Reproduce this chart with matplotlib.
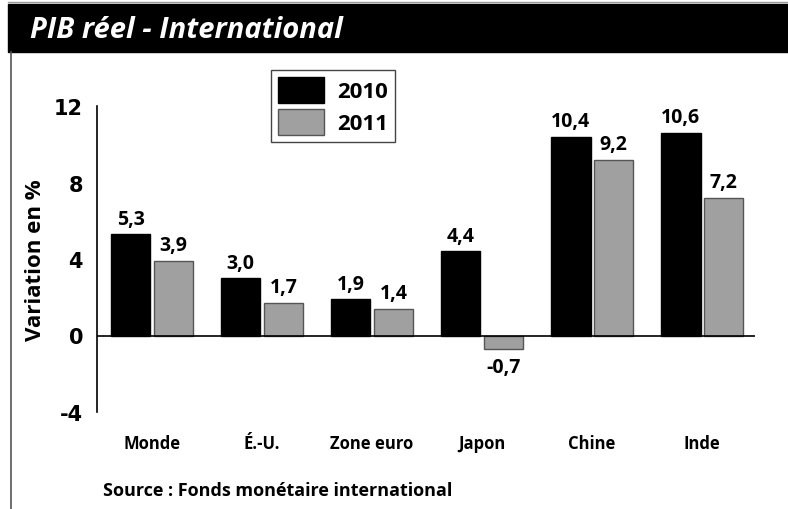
import matplotlib.pyplot as plt
import matplotlib.patches as mpatches
import numpy as np

categories = ['Monde', 'É.-U.', 'Zone euro', 'Japon', 'Chine', 'Inde']
values_2010 = [5.3, 3.0, 1.9, 4.4, 10.4, 10.6]
values_2011 = [3.9, 1.7, 1.4, -0.7, 9.2, 7.2]
series_labels = ['2010', '2011']
yticks = [-4, 0, 4, 8, 12]

txt_font = ['Open Sans', 'DejaVu Sans']

fig = plt.figure(figsize=(7.88, 5.10), dpi=100)

# header band and frame line on the left
fig.patches.append(mpatches.Rectangle((8 / 788, 1 - 53 / 510), 1, 48 / 510,
                                      transform=fig.transFigure, color='black', zorder=0))
fig.lines.append(plt.Line2D([8 / 788, 1], [1 - 3 / 510, 1 - 3 / 510],
                            transform=fig.transFigure, color='#999999', lw=1))
fig.lines.append(plt.Line2D([11 / 788, 11 / 788], [0, 1 - 53 / 510],
                            transform=fig.transFigure, color='#555555', lw=1.2))
fig.text(30 / 788, 1 - 31 / 510, 'PIB réel - International', color='white',
         fontsize=21, fontweight='bold', style='italic', family=txt_font, va='center')

ax = fig.add_axes([97 / 788, 1 - 413 / 510, (755 - 97) / 788, (413 - 107) / 510])

x = np.arange(len(categories))
w = 0.36
off = 0.195
b1 = ax.bar(x - off, values_2010, w, color='black', edgecolor='black', lw=1, label=series_labels[0])
b2 = ax.bar(x + off, values_2011, w, color='#a0a0a0', edgecolor='#555555', lw=1, label=series_labels[1])

for bars, vals in ((b1, values_2010), (b2, values_2011)):
    for r, v in zip(bars, vals):
        cx = r.get_x() + r.get_width() / 2
        lbl = f'{v:.1f}'.replace('.', ',')
        if v >= 0:
            ax.annotate(lbl, (cx, v), xytext=(0, 4), textcoords='offset points',
                        ha='center', va='bottom', fontsize=14, fontweight='bold', family=txt_font)
        else:
            ax.annotate(lbl, (cx, v), xytext=(0, -6), textcoords='offset points',
                        ha='center', va='top', fontsize=14, fontweight='bold', family=txt_font)

ax.axhline(0, color='black', lw=1.2)
ax.set_xlim(-0.5, 5.48)
ax.set_ylim(-4, 12)
ax.set_yticks(yticks)
ax.set_yticklabels([str(t) for t in yticks], fontsize=15, fontweight='bold', family='DejaVu Sans')
ax.tick_params(axis='y', length=0, pad=10)
ax.set_xticks(x)
ax.set_xticklabels(categories, fontsize=12, fontweight='bold', family=txt_font)
ax.tick_params(axis='x', length=0, pad=16)
for s in ('top', 'right', 'bottom'):
    ax.spines[s].set_visible(False)
ax.spines['left'].set_linewidth(1.2)
ax.set_ylabel('Variation en %', fontsize=16, fontweight='bold', family=txt_font, labelpad=6)

ax.legend(loc='upper left', bbox_to_anchor=(271 / 788, 1 - 71 / 510), bbox_transform=fig.transFigure,
          prop={'family': txt_font, 'size': 16, 'weight': 'bold'},
          handlelength=2.1, handleheight=1.45, handletextpad=0.6, labelspacing=0.25,
          borderpad=0.3, borderaxespad=0, fancybox=False, edgecolor='#444444', framealpha=1)

fig.text(103 / 788, 1 - 491 / 510, 'Source : Fonds monétaire international',
         fontsize=13, fontweight='bold', family=txt_font, va='center')

fig.savefig('out.png', dpi=100)
